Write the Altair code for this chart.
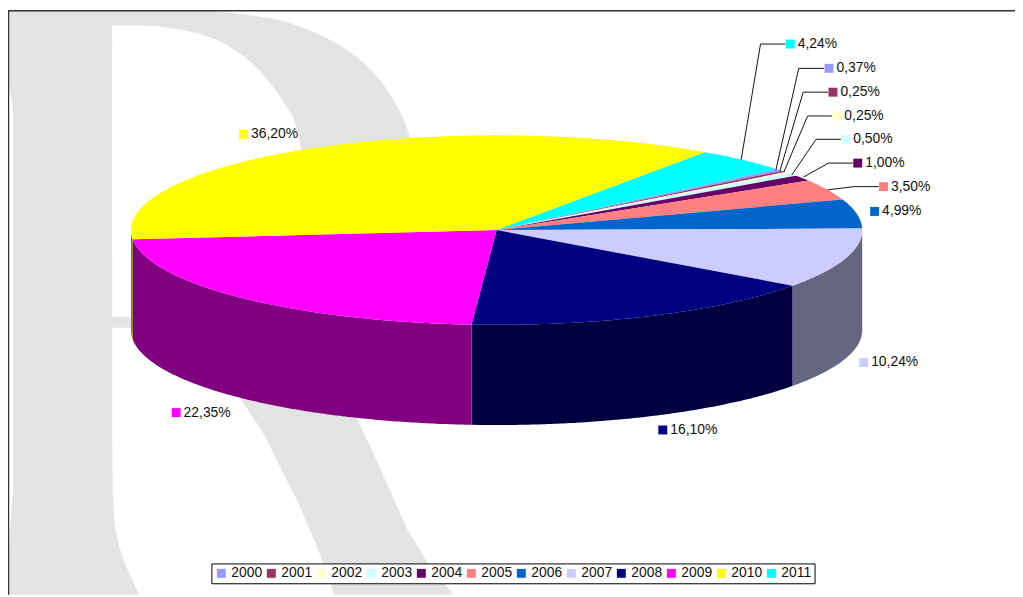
import math
import altair as alt

W, H = 1015, 589
OFF = 8

years = ["2000","2001","2002","2003","2004","2005","2006","2007","2008","2009","2010","2011"]
shares = [0.37,0.25,0.25,0.50,1.00,3.50,4.99,10.24,16.10,22.35,36.20,4.24]
labels = ["0,37%","0,25%","0,25%","0,50%","1,00%","3,50%","4,99%","10,24%","16,10%","22,35%","36,20%","4,24%"]
colors = ["#9999FF","#993366","#FFFFCC","#CCFFFF","#660066","#FF8080","#0066CC","#CCCCFF","#000080","#FF00FF","#FFFF00","#00FFFF"]
walls  = ["#4d4d80","#4d1a33","#808066","#668080","#330033","#804040","#003366","#666680","#000040","#800080","#808000","#008080"]

# label placement: square centre x, y
label_x = [835.5,839.5,843.5,852.5,864.5,890.5,881.5,870.5,668,177.5,245.5,796.5]
label_y = [66.5,90.5,114.5,138,162,185.7,210.7,363,431,413.5,133,42]
# leader lines: year -> elbow x, end point
leader_elbow = {"2011":766.5,"2000":805,"2001":809.5,"2002":814,"2003":822.5,"2004":835,"2005":861}
leader_end = {"2011":(747,158.5),"2000":(782,169),"2001":(786,170),"2002":(790,171),"2003":(798,174),"2004":(810,176),"2005":(834,189)}

# background watermark outline, in page pixels
wm_bowl_outer = [(180,8),(213,8),(253,13),(280,17),(313,28),(343,43),(370,63),(390,87),(405,113),(414,137),(425,180),(430,230)]
wm_leg_right = [(310,330),(360,420),(380,463),(410,530),(430,563),(457,597)]
wm_leg_left = [(337,597),(320,550),(300,503),(283,470),(267,437),(243,400),(210,328)]
wm_stem_foot = [(113,328),(113,480),(115,527),(123,560),(140,597)]
wm_stem_left = [(8,597),(8,575),(10,533),(13,490),(13,115),(12,100),(8,78),(8,8)]
wm_hole_bowl = [(113,23),(150,23),(187,28),(213,35),(233,45),(257,63),(277,87),(290,107),(297,117),(303,147),(315,200),(310,260),(270,300),(220,317)]
wm_hole_close = [(113,317)]


def chaikin(points, rounds=3):
    pts = list(points)
    for _ in range(rounds):
        out = [pts[0]]
        for (x0, y0), (x1, y1) in zip(pts, pts[1:]):
            out += [(0.75 * x0 + 0.25 * x1, 0.75 * y0 + 0.25 * y1),
                    (0.25 * x0 + 0.75 * x1, 0.25 * y0 + 0.75 * y1)]
        out.append(pts[-1])
        pts = out
    return pts


wm_outer = (chaikin(wm_bowl_outer) + wm_leg_right + wm_leg_left + chaikin(wm_stem_foot)
            + chaikin(wm_stem_left[:4], 2) + wm_stem_left[4:])
wm_hole = chaikin(wm_hole_bowl) + wm_hole_close

CX, CY, RX, RY, DEPTH = 500.5 - OFF, 229.5 - OFF, 368.5, 95.5, 101
START = 50.0


def pt(t, dy=0.0):
    r = math.radians(t)
    return [CX + RX * math.sin(r), CY - RY * math.cos(r) + dy]


def arc(a, b, dy=0.0):
    n = max(2, int(abs(b - a) / 0.5) + 1)
    return [pt(a + (b - a) * i / n, dy) for i in range(n + 1)]


tops, sides = [], []
acc = START
total = sum(shares)
for yr, s, wc in zip(years, shares, walls):
    a, b = acc, acc + s / total * 360
    acc = b
    ring = [[CX, CY]] + arc(a, b) + [[CX, CY]]
    tops.append({"type": "Feature", "properties": {"year": yr},
                 "geometry": {"type": "Polygon", "coordinates": [ring]}})
    la, lb = max(a, 90), min(b, 270)
    if lb > la:
        up = arc(la, lb)
        down = arc(la, lb, DEPTH)[::-1]
        sides.append({"type": "Feature", "properties": {"year": yr, "wall": wc},
                      "geometry": {"type": "Polygon", "coordinates": [up + down + [up[0]]]}})


def shift(points):
    return [[x - OFF, y - OFF] for x, y in points]


outer = shift(wm_outer)
hole = shift(wm_hole[::-1])
wm_feature = {"type": "Feature", "properties": {},
              "geometry": {"type": "Polygon", "coordinates": [outer + [outer[0]], hole + [hole[0]]]}}

proj = dict(type="identity", scale=1, translate=[0, 0])
x_enc = alt.X("x:Q", scale=alt.Scale(domain=[0, W], range=[0, W]), axis=None)
y_enc = alt.Y("y:Q", scale=alt.Scale(domain=[0, H], range=[0, H]), axis=None)

color_scale = alt.Scale(domain=years, range=colors)
legend = alt.Legend(
    title=None, orient="none", legendX=205, legendY=557.5, direction="horizontal", columns=12,
    symbolType="square", symbolSize=81, symbolStrokeWidth=0, labelFont="Liberation Sans",
    labelFontSize=14, labelColor="#111111", labelOffset=3, columnPadding=1.4, padding=3,
    strokeColor="#000000", fillColor="#ffffff", labelLimit=60,
)

watermark = alt.Chart(alt.Data(values=[wm_feature])).mark_geoshape(
    fill="#e3e3e3", strokeWidth=0
).project(**proj)

wall_layer = alt.Chart(alt.Data(values=sides)).mark_geoshape(strokeWidth=0).encode(
    fill=alt.Fill("properties.wall:N", scale=None)
).project(**proj)

top_layer = alt.Chart(alt.Data(values=tops)).mark_geoshape(strokeWidth=0).encode(
    color=alt.Color("properties.year:N", scale=color_scale, legend=legend)
).project(**proj)

leader_rows = []
for yr, lx, ly in zip(years, label_x, label_y):
    if yr in leader_elbow:
        ex, ey = leader_end[yr]
        start = lx - 5
        leader_rows += [
            {"year": yr, "i": 0, "x": start - OFF, "y": ly - OFF},
            {"year": yr, "i": 1, "x": leader_elbow[yr] - OFF, "y": ly - OFF},
            {"year": yr, "i": 2, "x": ex - OFF, "y": ey - OFF},
        ]
leaders = alt.Chart(alt.Data(values=leader_rows)).mark_line(color="#111111", strokeWidth=1).encode(
    x=x_enc, y=y_enc, detail="year:N", order="i:Q"
)

label_rows = [{"year": yr, "t": t, "x": lx - OFF, "y": ly - OFF, "tx": lx + 7.5 - OFF}
              for yr, t, lx, ly in zip(years, labels, label_x, label_y)]
squares = alt.Chart(alt.Data(values=label_rows)).mark_square(size=81, opacity=1, strokeWidth=0).encode(
    x=x_enc, y=y_enc, color=alt.Color("year:N", scale=color_scale, legend=None)
)
texts = alt.Chart(alt.Data(values=label_rows)).mark_text(
    font="Liberation Sans", fontSize=14, color="#111111", align="left", baseline="middle"
).encode(x=alt.X("tx:Q", scale=alt.Scale(domain=[0, W], range=[0, W]), axis=None), y=y_enc, text="t:N")

frame_top = alt.Chart(alt.Data(values=[{"x": 0, "x2": W, "y": 0.5}])).mark_rule(color="#333333", strokeWidth=1.5).encode(
    x=x_enc, x2="x2:Q", y=y_enc)
frame_left = alt.Chart(alt.Data(values=[{"x": 0.5, "y": 0, "y2": H}])).mark_rule(color="#333333", strokeWidth=1.5).encode(
    x=x_enc, y=y_enc, y2="y2:Q")

chart = alt.layer(watermark, frame_top, frame_left, wall_layer, top_layer, leaders, squares, texts).properties(
    width=W, height=H, padding=0, autosize=alt.AutoSizeParams(type="none"), background="#ffffff"
).configure_view(stroke=None)

chart.save("out.html", embed_options={"renderer": "svg", "actions": False})
